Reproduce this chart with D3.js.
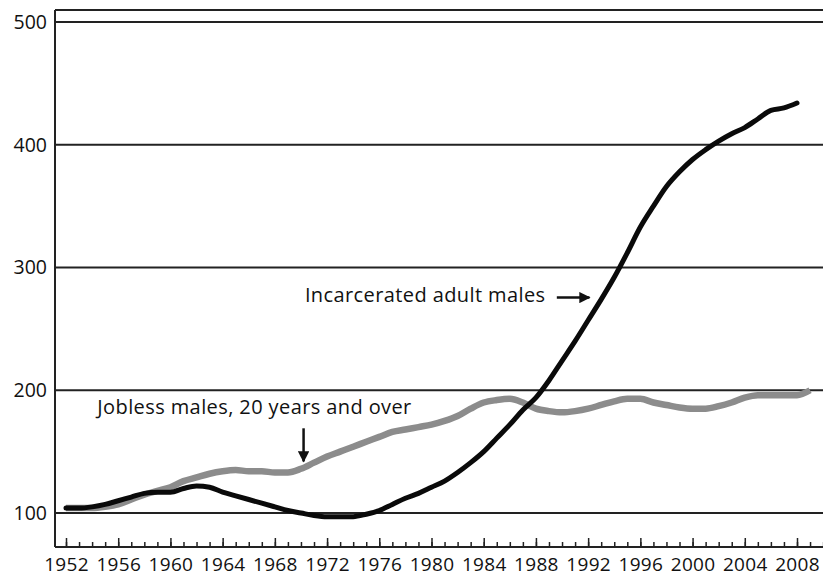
<!DOCTYPE html>
<html>
<head>
<meta charset="utf-8">
<script src="https://cdn.jsdelivr.net/npm/d3@7"></script>
<style>
  body { margin: 0; background: #fff; }
  text { font-family: "Open Sans", sans-serif; fill: #111; }
</style>
</head>
<body>
<div id="chart"></div>
<script>
// ----- data (index, 1952 = 100-ish) -----
const years = d3.range(1952, 2009);
const incarcerated = [104, 104, 105, 107, 110, 113, 116, 117, 117, 120,
  122, 121, 117, 114, 111, 108, 105, 102, 100, 98,
  97, 97, 97, 99, 102, 107, 112, 116, 121, 126,
  133, 141, 150, 161, 172, 184, 194, 208, 224, 240,
  257, 274, 292, 312, 333, 350, 366, 378, 388, 396,
  403, 409, 414, 421, 428, 430, 434];
const joblessYears = d3.range(1952, 2010);
const jobless = [104, 104, 104, 105, 107, 111, 115, 118, 121, 126,
  129, 132, 134, 135, 134, 134, 133, 133, 136, 141,
  146, 150, 154, 158, 162, 166, 168, 170, 172, 175,
  179, 185, 190, 192, 193, 190, 185, 183, 182, 183,
  185, 188, 191, 193, 193, 190, 188, 186, 185, 185,
  187, 190, 194, 196, 196, 196, 196, 200];
const yTicks = [100, 200, 300, 400, 500];
const labelYears = d3.range(1952, 2009, 4);

const W = 823, H = 577;
const svg = d3.select("#chart")
    .append("svg")
    .attr("width", W)
    .attr("height", H);

const x = d3.scaleLinear().domain([1952, 2008]).range([66, 797]);
const y = d3.scaleLinear().domain([100, 500]).range([513, 22]);
const plotLeft = 55, plotRight = W, plotTop = 10, plotBottom = 547;

// gridlines
svg.append("g")
    .selectAll("line")
    .data(yTicks)
    .enter()
    .append("line")
    .attr("x1", plotLeft)
    .attr("x2", plotRight)
    .attr("y1", d => y(d))
    .attr("y2", d => y(d))
    .attr("stroke", "#222")
    .attr("stroke-width", 2);

// top border
svg.append("line")
    .attr("x1", plotLeft).attr("x2", plotRight)
    .attr("y1", plotTop).attr("y2", plotTop)
    .attr("stroke", "#222").attr("stroke-width", 2);

// Y axis
const yAxis = svg.append("g")
    .attr("transform", `translate(${plotLeft},0)`)
    .call(d3.axisLeft(y).tickValues(yTicks).tickSize(0).tickPadding(8));
yAxis.select(".domain").remove();
yAxis.append("line")
    .attr("x1", 0).attr("x2", 0)
    .attr("y1", plotTop).attr("y2", plotBottom)
    .attr("stroke", "#222").attr("stroke-width", 2);
yAxis.selectAll("text")
    .style("font-size", "19.5px")
    .attr("font-family", null);

// X axis: minor ticks every year, major every 4 years
const xMinor = svg.append("g")
    .attr("transform", `translate(0,${plotBottom})`)
    .call(d3.axisBottom(x).tickValues(d3.range(1952, 2011)).tickSize(-5).tickFormat(""));
xMinor.select(".domain").remove();
xMinor.selectAll("line").attr("stroke", "#222").attr("stroke-width", 1.5);

const xMajor = svg.append("g")
    .attr("transform", `translate(0,${plotBottom})`)
    .call(d3.axisBottom(x).tickValues(labelYears).tickSize(-9).tickPadding(11).tickFormat(d3.format("d")));
xMajor.select(".domain").remove();
xMajor.selectAll("line").attr("stroke", "#222").attr("stroke-width", 1.5);
xMajor.selectAll("text")
    .style("font-size", "19px")
    .style("letter-spacing", "0.3px")
    .attr("font-family", null);

svg.append("line")
    .attr("x1", plotLeft).attr("x2", plotRight)
    .attr("y1", plotBottom).attr("y2", plotBottom)
    .attr("stroke", "#222").attr("stroke-width", 2);

// lines
const line = d3.line()
    .x(d => x(d[0]))
    .y(d => y(d[1]))
    .curve(d3.curveMonotoneX);

svg.append("path")
    .datum(joblessYears.map((yr, i) => [yr, jobless[i]]))
    .attr("fill", "none")
    .attr("stroke", "#8c8c8c")
    .attr("stroke-width", 6.5)
    .attr("stroke-linejoin", "round")
    .attr("d", line);

svg.append("path")
    .datum(years.map((yr, i) => [yr, incarcerated[i]]))
    .attr("fill", "none")
    .attr("stroke", "#0a0a0a")
    .attr("stroke-width", 5)
    .attr("stroke-linecap", "round")
    .attr("stroke-linejoin", "round")
    .attr("d", line);

// annotations
const defs = svg.append("defs");
defs.append("marker")
    .attr("id", "head")
    .attr("viewBox", "0 0 10 10")
    .attr("refX", 9).attr("refY", 5)
    .attr("markerWidth", 4.5).attr("markerHeight", 4.5)
    .attr("orient", "auto")
    .append("path")
    .attr("d", "M0,0L10,5L0,10z")
    .attr("fill", "#111");

svg.append("text")
    .attr("x", x(1954.4))
    .attr("y", y(180.5))
    .style("font-size", "20px")
    .style("letter-spacing", "0.4px")
    .text("Jobless males, 20 years and over");
svg.append("line")
    .attr("x1", x(1970.2)).attr("x2", x(1970.2))
    .attr("y1", y(169)).attr("y2", y(142))
    .attr("stroke", "#111").attr("stroke-width", 2.5)
    .attr("marker-end", "url(#head)");

svg.append("text")
    .attr("x", x(1970.3))
    .attr("y", y(272))
    .style("font-size", "20px")
    .style("letter-spacing", "0.4px")
    .text("Incarcerated adult males");
svg.append("line")
    .attr("x1", x(1989.6)).attr("x2", x(1992.1))
    .attr("y1", y(275.5)).attr("y2", y(275.5))
    .attr("stroke", "#111").attr("stroke-width", 2.5)
    .attr("marker-end", "url(#head)");
</script>
</body>
</html>
